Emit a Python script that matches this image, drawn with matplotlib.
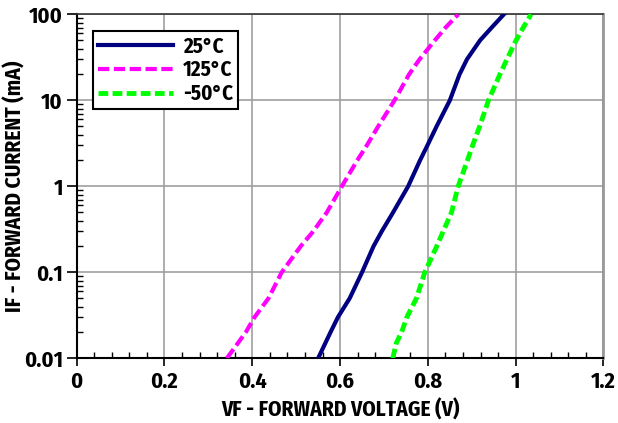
import numpy as np
import matplotlib
matplotlib.use('Agg')
import matplotlib.pyplot as plt
from matplotlib import font_manager as fm
from matplotlib.ticker import FixedLocator, FuncFormatter, LogLocator, NullFormatter

# the reference uses a heavy bold condensed face; take the first one that is installed
wanted = ['Fira Sans Condensed', 'Roboto Condensed', 'PT Sans Narrow', 'Open Sans Condensed',
          'Barlow Condensed', 'IBM Plex Sans Condensed', 'Saira SemiCondensed']
bold_names = {f.name for f in fm.fontManager.ttflist if f.weight in (700, 'bold')}
fam = next((n for n in wanted if n in bold_names), 'Liberation Sans')
plt.rcParams['font.family'] = [fam, 'DejaVu Sans']
plt.rcParams['font.weight'] = 'bold'

# forward current (mA) and forward voltage (V)
i_25 = [0.01, 0.02, 0.03, 0.05, 0.1, 0.2, 0.3, 0.5, 1, 2, 3, 5, 10, 20, 30, 50, 70, 100]
v_25 = [0.550, 0.578, 0.595, 0.622, 0.650, 0.676, 0.695, 0.721, 0.755, 0.782, 0.799, 0.820,
        0.850, 0.872, 0.889, 0.919, 0.945, 0.973]

i_125 = [0.01, 0.02, 0.03, 0.05, 0.1, 0.2, 0.3, 0.5, 1, 2, 3, 5, 10, 20, 30, 50, 70, 100]
v_125 = [0.342, 0.385, 0.405, 0.437, 0.467, 0.510, 0.539, 0.570, 0.604, 0.639, 0.661, 0.687,
         0.724, 0.757, 0.781, 0.816, 0.840, 0.869]

i_m50 = [0.01, 0.015, 0.02, 0.03, 0.05, 0.1, 0.2, 0.3, 0.5, 1, 2, 3, 5, 10, 20, 30, 50, 70, 100]
v_m50 = [0.720, 0.728, 0.740, 0.752, 0.774, 0.793, 0.820, 0.835, 0.854, 0.869, 0.890, 0.902,
         0.918, 0.938, 0.964, 0.980, 1.001, 1.017, 1.035]

x_ticks = [0, 0.2, 0.4, 0.6, 0.8, 1.0, 1.2]
y_ticks = [0.01, 0.1, 1, 10, 100]

fig = plt.figure(figsize=(6.18, 4.23), dpi=100)
ax = fig.add_axes([0.1241, 0.153, 0.8524, 0.813])

ax.plot(v_25, i_25, color='#000080', lw=3, label='25°C', zorder=3)
ax.plot(v_125, i_125, color='#FF00FF', lw=3, linestyle=(0, (2.7, 1.1)), label='125°C', zorder=3)
ax.plot(v_m50, i_m50, color='#00FF00', lw=3.5, linestyle=(0, (2.0, 0.9)), label='-50°C', zorder=3)

ax.set_yscale('log')
ax.set_xlim(0, 1.2)
ax.set_ylim(0.01, 100)

ax.xaxis.set_major_locator(FixedLocator(x_ticks))
ax.xaxis.set_minor_locator(FixedLocator(np.arange(0, 1.201, 0.04)))
ax.xaxis.set_major_formatter(FuncFormatter(lambda v, p: '%g' % v))
ax.yaxis.set_major_locator(FixedLocator(y_ticks))
ax.yaxis.set_minor_locator(LogLocator(base=10, subs=np.arange(2, 10)))
ax.yaxis.set_major_formatter(FuncFormatter(lambda v, p: '%g' % v))
ax.yaxis.set_minor_formatter(NullFormatter())

ax.tick_params(which='major', direction='out', length=7, width=1.2, labelsize=16, pad=3)
ax.tick_params(which='minor', direction='in', length=4, width=1)
ax.tick_params(axis='x', which='major', length=6)

ax.grid(True, which='major', color='#a0a0a0', lw=1.2)
ax.set_axisbelow(True)

ax.spines['left'].set_linewidth(1.5)
ax.spines['bottom'].set_linewidth(1.5)
ax.spines['top'].set_color('#333333')
ax.spines['top'].set_linewidth(1.2)
ax.spines['right'].set_color('#999999')
ax.spines['right'].set_linewidth(2)

ax.set_xlabel('VF - FORWARD VOLTAGE (V)', fontsize=15.5, fontweight='bold', va='center')
ax.xaxis.set_label_coords(0.5, -0.150)
ax.set_ylabel('IF - FORWARD CURRENT (mA)', fontsize=15.5, fontweight='bold', va='center')
ax.yaxis.set_label_coords(-0.117, 0.5)

leg = ax.legend(loc='upper left', bbox_to_anchor=(0.031, 0.951), borderaxespad=0, fontsize=15,
                frameon=True, fancybox=False, edgecolor='black', framealpha=1, handlelength=3.6,
                borderpad=0.22, labelspacing=0.12, handletextpad=0.5)
leg.get_frame().set_linewidth(1.5)

fig.savefig('out.png', dpi=100)
